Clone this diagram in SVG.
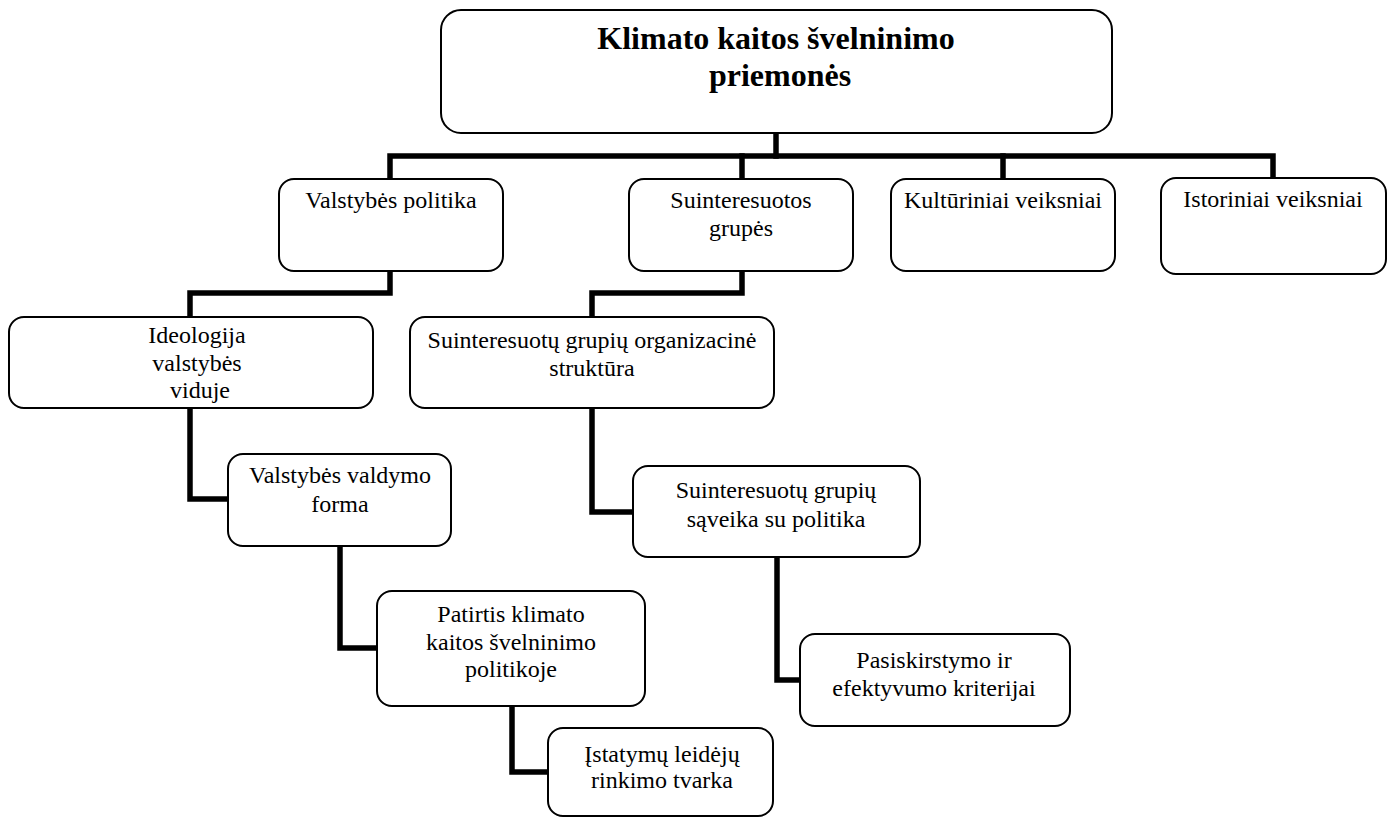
<svg xmlns="http://www.w3.org/2000/svg" width="1393" height="818" viewBox="0 0 1393 818">
<style>
  .box { fill: #ffffff; stroke: #000000; stroke-width: 2; }
  .conn { fill: none; stroke: #000000; stroke-width: 5.5; stroke-linejoin: miter; stroke-linecap: square; }
  text { font-family: 'Liberation Serif', 'DejaVu Serif', 'Times New Roman', serif; fill: #000000; text-anchor: middle; }
  .t { font-size: 24px; }
  .tb { font-size: 32px; font-weight: bold; }
</style>
<rect width="1393" height="818" fill="#ffffff"/>
<g id="connectors">
  <path class="conn" d="M776,134 V156"/>
  <path class="conn" d="M390,178 V156 H1273 V177"/>
  <path class="conn" d="M742,156 V178"/>
  <path class="conn" d="M1003,156 V178"/>
  <path class="conn" d="M390,272 V293 H190 V316"/>
  <path class="conn" d="M742,272 V293 H592 V316"/>
  <path class="conn" d="M190,409 V499 H227"/>
  <path class="conn" d="M340,547 V648 H376"/>
  <path class="conn" d="M512,707 V772 H547"/>
  <path class="conn" d="M592,409 V512 H632"/>
  <path class="conn" d="M777,558 V680 H799"/>
</g>
<g id="node-root">
  <rect class="box" x="441" y="10" width="671" height="123" rx="20"/>
  <text class="tb" x="776" y="49" font-family="Liberation Serif, serif">Klimato kaitos švelninimo</text>
  <text class="tb" x="780" y="86" font-family="Liberation Serif, serif">priemonės</text>
</g>
<g id="node-valstybes-politika">
  <rect class="box" x="279" y="179" width="224" height="92" rx="15"/>
  <text class="t" x="391" y="208">Valstybės politika</text>
</g>
<g id="node-suinteresuotos-grupes">
  <rect class="box" x="629" y="179" width="224" height="92" rx="15"/>
  <text class="t" x="741" y="208">Suinteresuotos</text>
  <text class="t" x="741" y="236">grupės</text>
</g>
<g id="node-kulturiniai">
  <rect class="box" x="891" y="179" width="224" height="92" rx="15"/>
  <text class="t" x="1003" y="208">Kultūriniai veiksniai</text>
</g>
<g id="node-istoriniai">
  <rect class="box" x="1161" y="178" width="225" height="96" rx="15"/>
  <text class="t" x="1273" y="207">Istoriniai veiksniai</text>
</g>
<g id="node-ideologija">
  <rect class="box" x="9" y="317" width="364" height="91" rx="15"/>
  <text class="t" x="197" y="343">Ideologija</text>
  <text class="t" x="197" y="371">valstybės</text>
  <text class="t" x="200" y="398">viduje</text>
</g>
<g id="node-organizacine-struktura">
  <rect class="box" x="410" y="317" width="364" height="91" rx="15"/>
  <text class="t" x="592" y="348">Suinteresuotų grupių organizacinė</text>
  <text class="t" x="592" y="376">struktūra</text>
</g>
<g id="node-valdymo-forma">
  <rect class="box" x="228" y="454" width="223" height="92" rx="15"/>
  <text class="t" x="340" y="483">Valstybės valdymo</text>
  <text class="t" x="340" y="512">forma</text>
</g>
<g id="node-saveika">
  <rect class="box" x="633" y="466" width="287" height="91" rx="15"/>
  <text class="t" x="776" y="498">Suinteresuotų grupių</text>
  <text class="t" x="776" y="527">sąveika su politika</text>
</g>
<g id="node-patirtis">
  <rect class="box" x="377" y="591" width="268" height="115" rx="15"/>
  <text class="t" x="511" y="622">Patirtis klimato</text>
  <text class="t" x="511" y="650">kaitos švelninimo</text>
  <text class="t" x="511" y="677">politikoje</text>
</g>
<g id="node-pasiskirstymo">
  <rect class="box" x="800" y="634" width="270" height="92" rx="15"/>
  <text class="t" x="934" y="668">Pasiskirstymo ir</text>
  <text class="t" x="934" y="696">efektyvumo kriterijai</text>
</g>
<g id="node-istatymu">
  <rect class="box" x="548" y="728" width="225" height="88" rx="15"/>
  <text class="t" x="662" y="762">Įstatymų leidėjų</text>
  <text class="t" x="662" y="788">rinkimo tvarka</text>
</g>
</svg>
